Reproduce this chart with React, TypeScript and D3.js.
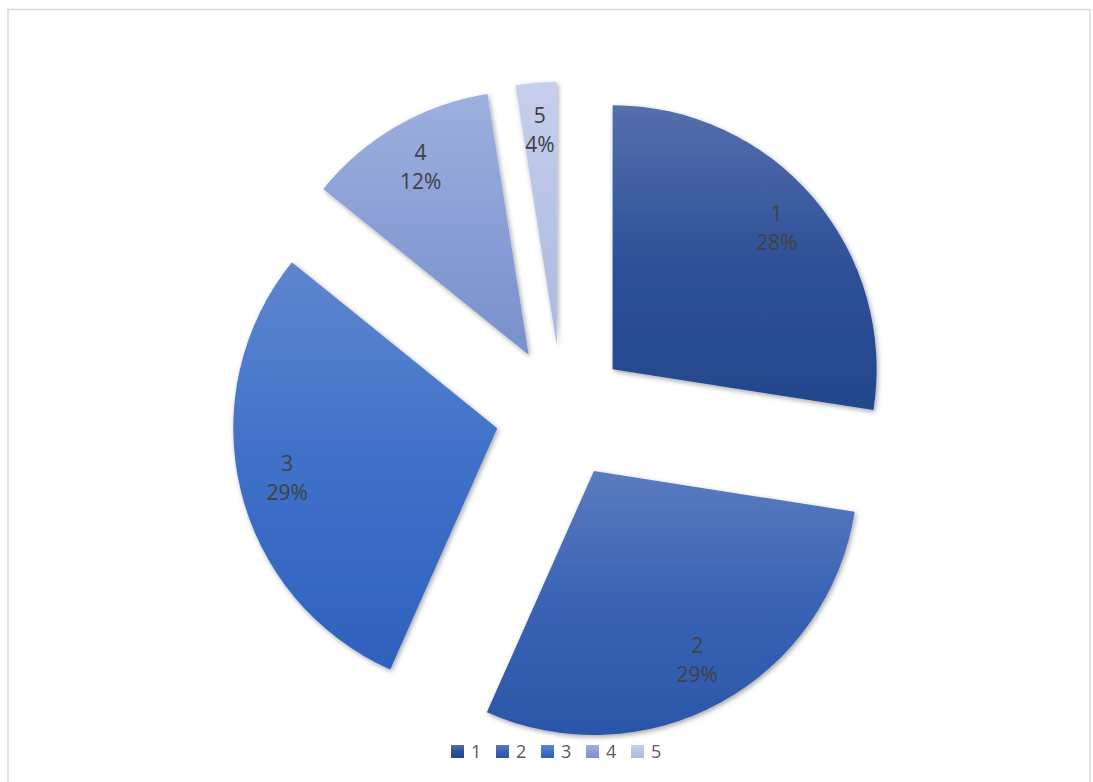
import * as d3 from "d3";

// slice values
const categories = ["1", "2", "3", "4", "5"];
const values = [27.5, 29.2, 29.2, 11.7, 2.5];
// percentages as printed on the data labels
const percentLabels = ["28%", "29%", "29%", "12%", "4%"];

// light top / base / dark bottom for each slice gradient
const topColors = ["#5470ab", "#5a7bbf", "#5e86cf", "#9db0de", "#c6cfec"];
const midColors = ["#2f5198", "#3a62b4", "#3f70c8", "#8a9fd6", "#b8c4e7"];
const bottomColors = ["#22468c", "#2b56a8", "#2e61bd", "#7890cc", "#a9b8e0"];

const W = 1093;
const H = 782;
const cx = 562;
const cy = 412.5;
const radius = 264;
const explode = 66.6;
const labelDist = 216;

export default function App() {
  const pie = d3
    .pie<number>()
    .sort(null)
    .startAngle(0)
    .endAngle(2 * Math.PI)
    .value((d) => d);
  const arcs = pie(values);
  const arc = d3.arc<d3.PieArcDatum<number>>().innerRadius(0).outerRadius(radius);

  const legendX = d3.scalePoint<string>().domain(categories).range([451, 631]);

  return (
    <svg
      width={W}
      height={H}
      style={{ position: "absolute", left: 0, top: 0, background: "#fff" }}
      fontFamily="'Open Sans', 'Noto Sans', sans-serif"
    >
      <defs>
        {categories.map((c, i) => (
          <linearGradient key={c} id={`grad${i}`} x1="0" y1="0" x2="0" y2="1">
            <stop offset="0%" stopColor={topColors[i]} />
            <stop offset="50%" stopColor={midColors[i]} />
            <stop offset="100%" stopColor={bottomColors[i]} />
          </linearGradient>
        ))}
        <filter id="shadow" x="-20%" y="-20%" width="140%" height="140%">
          <feDropShadow dx="1.5" dy="2" stdDeviation="2.5" floodColor="#000" floodOpacity="0.35" />
        </filter>
      </defs>

      <rect x={8} y={9.5} width={1082} height={800} fill="#fff" stroke="#d9d9d9" strokeWidth={1.5} />

      <g transform={`translate(${cx},${cy})`}>
        {arcs.map((a, i) => {
          const mid = (a.startAngle + a.endAngle) / 2;
          const ox = Math.sin(mid) * explode;
          const oy = -Math.cos(mid) * explode;
          return (
            <path
              key={categories[i]}
              d={arc(a) ?? ""}
              transform={`translate(${ox},${oy})`}
              fill={`url(#grad${i})`}
              filter="url(#shadow)"
            />
          );
        })}
        {arcs.map((a, i) => {
          const mid = (a.startAngle + a.endAngle) / 2;
          const lx = Math.sin(mid) * (explode + labelDist);
          const ly = -Math.cos(mid) * (explode + labelDist);
          return (
            <text key={categories[i]} textAnchor="middle" fill="#404040" fontSize={21}>
              <tspan x={lx} y={ly - 8}>
                {categories[i]}
              </tspan>
              <tspan x={lx} y={ly + 21}>
                {percentLabels[i]}
              </tspan>
            </text>
          );
        })}
      </g>

      {/* Legend */}
      <g>
        {categories.map((c, i) => (
          <g key={c} transform={`translate(${legendX(c)},745)`}>
            <rect width={13} height={13} fill={`url(#grad${i})`} />
            <text x={20} y={13} fontSize={18} fill="#595959">
              {c}
            </text>
          </g>
        ))}
      </g>
    </svg>
  );
}
